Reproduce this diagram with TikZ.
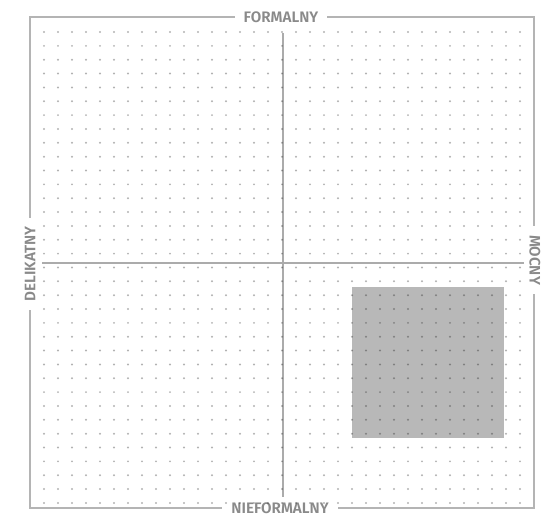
\documentclass[tikz,border=0pt]{standalone}
\usepackage{fontspec}
\newfontfamily\labfont{Fira Sans SemiBold}
\definecolor{framec}{HTML}{B4B4B4}
\definecolor{axisc}{HTML}{ABABAB}
\definecolor{textc}{HTML}{8A8A8A}
\definecolor{boxc}{HTML}{B8B8B8}
\tikzset{
  framestyle/.style={draw=framec, line width=2pt},
  axisstyle/.style={draw=axisc, line width=2pt},
  lab/.style={font=\labfont\fontsize{15.2}{16}\selectfont, text=textc, fill=white, inner xsep=9pt, inner ysep=4pt},
  dotstyle/.style={fill=black, opacity=0.3},
}
\begin{document}
\begin{tikzpicture}[x=1pt,y=-1pt]
\useasboundingbox (0,0) rectangle (550,517);
% frame
\draw[framestyle] (30,17) rectangle (534,508);
% labels (mask the frame)
\node[lab] (top) at (281,17) {FORMALNY};
\node[lab] (bottom) at (280,508) {NIEFORMALNY};
\node[lab, rotate=90] (left) at (30,264) {DELIKATNY};
\node[lab, rotate=-90] (right) at (535,260) {MOCNY};
% highlighted box
\fill[boxc] (352,287) rectangle (504,438);
% axes
\coordinate (vtop) at (282.5,33);
\coordinate (vbot) at (282.5,497);
\coordinate (hl) at (42,263);
\coordinate (hr) at (524,263);
\draw[axisstyle] (vtop) -- (vbot);
\draw[axisstyle] (hl) -- (hr);
% dots
\foreach \i in {0,...,34}{
  \foreach \j in {0,...,34}{
    \fill[dotstyle] ({44+14*\i},{32+13.85*\j}) circle (1.1pt);
  }
}
\end{tikzpicture}
\end{document}
